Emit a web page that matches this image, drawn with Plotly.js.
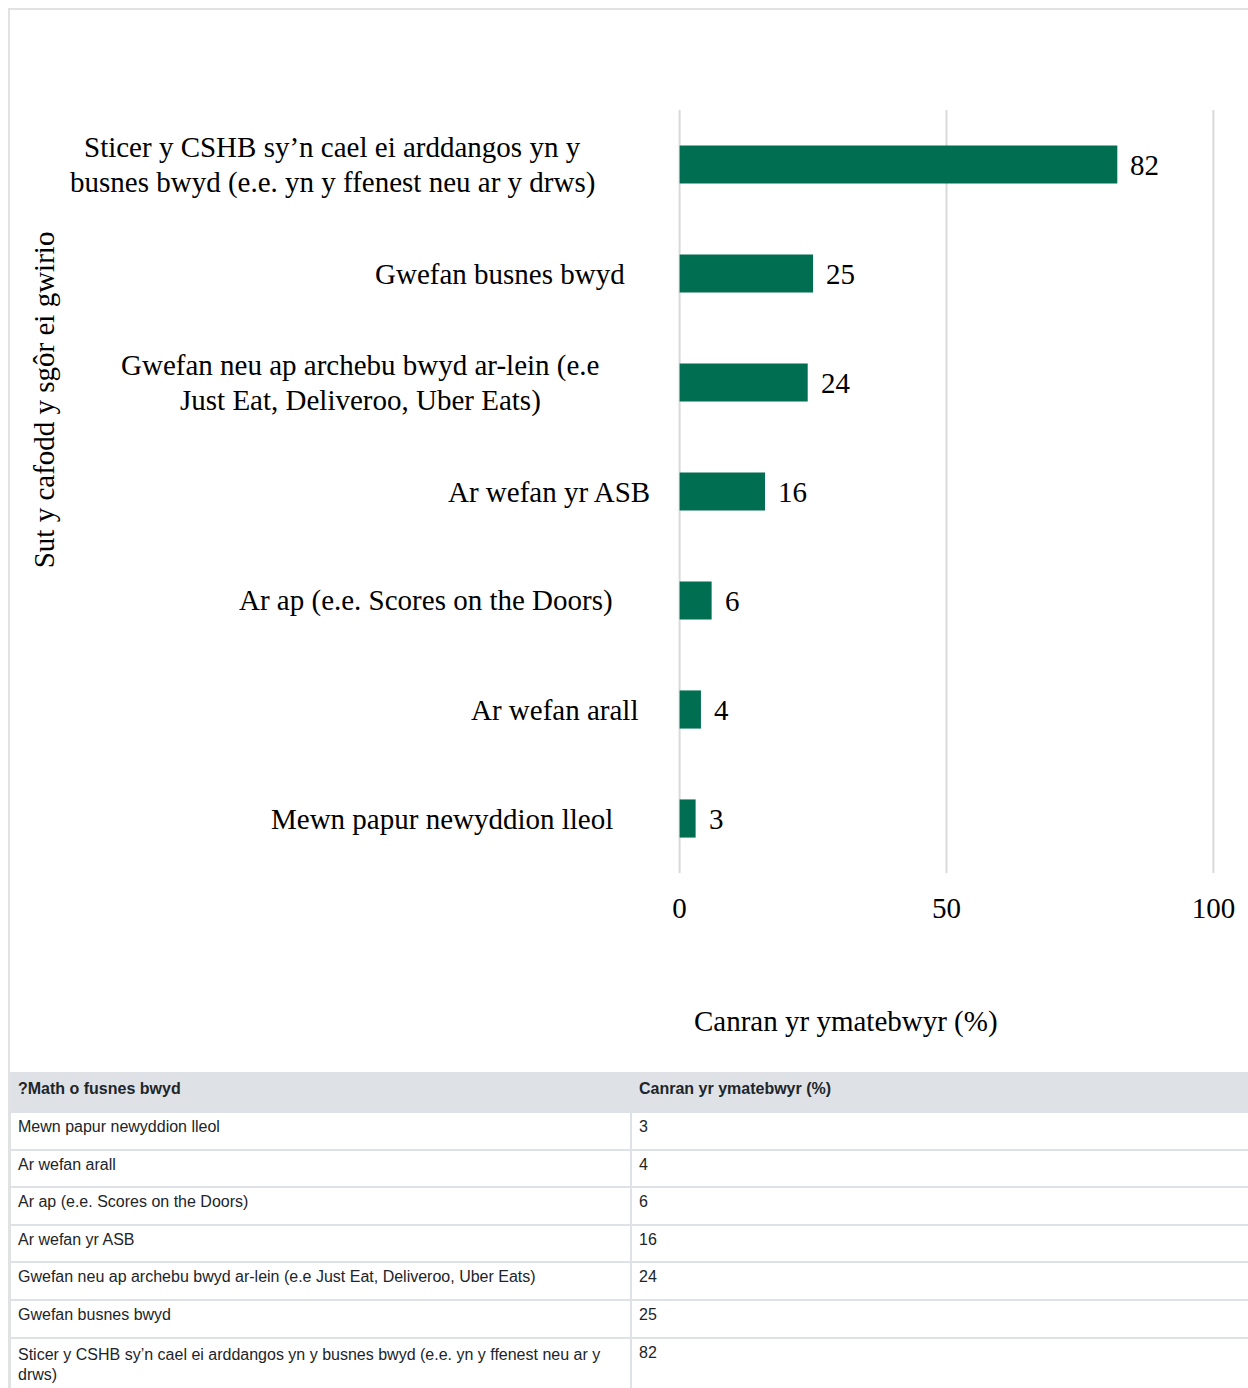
<!DOCTYPE html>
<html>
<head>
<meta charset="utf-8">
<script src="https://cdn.plot.ly/plotly-3.0.1.min.js"></script>
<style>
  html, body { margin: 0; padding: 0; background: #ffffff; overflow: hidden; }
  #frame { position: absolute; left: 8px; top: 8px; width: 1300px; height: 1420px;
           border-left: 2px solid #e2e2e2; border-top: 2px solid #e2e2e2; }
  #chart { position: absolute; left: 0; top: 0; width: 1240px; height: 1062px; }
  #table { position: absolute; left: 0; top: 1062px; width: 1250px; height: 340px; }
</style>
</head>
<body>
<div id="frame">
  <div id="chart"></div>
  <div id="table"></div>
</div>
<script>
// ---- data (bottom to top, as in the table) ----
const categories = [
  "Mewn papur newyddion lleol",
  "Ar wefan arall",
  "Ar ap (e.e. Scores on the Doors)",
  "Ar wefan yr ASB",
  "Gwefan neu ap archebu bwyd ar-lein (e.e Just Eat, Deliveroo, Uber Eats)",
  "Gwefan busnes bwyd",
  "Sticer y CSHB sy’n cael ei arddangos yn y busnes bwyd (e.e. yn y ffenest neu ar y drws)"
];
const chartLabels = [
  "Mewn papur newyddion lleol",
  "Ar wefan arall",
  "Ar ap (e.e. Scores on the Doors)",
  "Ar wefan yr ASB",
  "Gwefan neu ap archebu bwyd ar-lein (e.e<br>Just Eat, Deliveroo, Uber Eats)",
  "Gwefan busnes bwyd",
  "Sticer y CSHB sy’n cael ei arddangos yn y<br>busnes bwyd (e.e. yn y ffenest neu ar y drws)"
];
const tableLabels = [
  "Mewn papur newyddion lleol",
  "Ar wefan arall",
  "Ar ap (e.e. Scores on the Doors)",
  "Ar wefan yr ASB",
  "Gwefan neu ap archebu bwyd ar-lein (e.e Just Eat, Deliveroo, Uber Eats)",
  "Gwefan busnes bwyd",
  "Sticer y CSHB sy’n cael ei arddangos yn y busnes bwyd (e.e. yn y ffenest neu ar y<br>drws)"
];
const values = [3, 4, 6, 16, 24, 25, 82];
const xTicks = [0, 50, 100];
const yAxisTitle = "Sut y cafodd y sgôr ei gwirio";
const xAxisTitle = "Canran yr ymatebwyr (%)";
const tableHeader = ["?Math o fusnes bwyd", "Canran yr ymatebwyr (%)"];

// ---- style ----
const SERIF = '"Liberation Serif", "Times New Roman", Times, serif';
const SANS = '"Liberation Sans", Arial, Helvetica, sans-serif';
const GREEN = '#006f51';
const FS = 29;
const LINE_H = 35;
// horizontal centre of each category label, px offset from the plot's left edge
const labelShift = [-236, -124, -252, -129, -318, -178, -346];

const annotations = [];
categories.forEach((c, i) => {
  const lines = chartLabels[i].split('<br>');
  lines.forEach((ln, j) => {
    annotations.push({
      xref: 'paper', yref: 'y', x: 0, y: c, xanchor: 'center', yanchor: 'middle',
      xshift: labelShift[i], yshift: ((lines.length - 1) / 2 - j) * LINE_H,
      text: ln, showarrow: false, align: 'center',
      font: { family: SERIF, size: FS, color: '#000' }
    });
  });
  annotations.push({
    xref: 'x', yref: 'y', x: values[i], y: c, xanchor: 'left', yanchor: 'middle',
    xshift: 11, text: String(values[i]), showarrow: false,
    font: { family: SERIF, size: FS, color: '#000' }
  });
});
annotations.push({
  xref: 'paper', yref: 'paper', x: -1.18, y: 0.62, xanchor: 'center', yanchor: 'middle',
  textangle: -90, text: yAxisTitle, showarrow: false,
  font: { family: SERIF, size: FS, color: '#000' }
});
annotations.push({
  xref: 'paper', yref: 'paper', x: 0.3137, y: -0.195, xanchor: 'center', yanchor: 'middle',
  text: xAxisTitle, showarrow: false,
  font: { family: SERIF, size: FS, color: '#000' }
});

// vertical gridlines at every tick (including the range ends)
const gridShapes = xTicks.map(v => ({
  type: 'line', xref: 'x', yref: 'paper', x0: v, x1: v, y0: 0, y1: 1,
  layer: 'below', line: { color: '#d9d9d9', width: 2 }
}));

Plotly.newPlot('chart', [{
  type: 'bar', orientation: 'h', x: values, y: categories,
  marker: { color: GREEN }, width: 0.35, hoverinfo: 'x+y'
}], {
  width: 1240, height: 1062,
  margin: { l: 668, r: 35, t: 100, b: 199 },
  paper_bgcolor: '#fff', plot_bgcolor: '#fff',
  showlegend: false,
  font: { family: SERIF, size: FS, color: '#000' },
  xaxis: {
    range: [-0.3, 100.3], tickvals: xTicks, ticktext: xTicks.map(String),
    showgrid: false, zeroline: false,
    showline: false, ticks: '', ticklabelstandoff: 15,
    tickfont: { family: SERIF, size: FS, color: '#000' }
  },
  yaxis: {
    type: 'category', categoryorder: 'array', categoryarray: categories,
    range: [-0.5, categories.length - 0.5],
    showticklabels: false, showgrid: false, zeroline: false, showline: false, ticks: ''
  },
  shapes: gridShapes,
  annotations: annotations
}, { displayModeBar: false, staticPlot: true });

Plotly.newPlot('table', [{
  type: 'table',
  columnwidth: [621, 629],
  header: {
    values: tableHeader.map(h => '<b>' + h + '</b>'),
    align: 'left', height: 40,
    fill: { color: '#dee2e6' },
    line: { color: '#dee2e6', width: 2 },
    font: { family: SANS, size: 16, color: '#212529' }
  },
  cells: {
    values: [tableLabels, values.map(String)],
    align: 'left', height: 37.6,
    fill: { color: '#ffffff' },
    line: { color: '#dee2e6', width: 2 },
    font: { family: SANS, size: 16, color: '#212529' }
  }
}], {
  width: 1250, height: 340,
  margin: { l: 0, r: 0, t: 0, b: 0 },
  paper_bgcolor: 'rgba(0,0,0,0)'
}, { displayModeBar: false, staticPlot: true });
</script>
</body>
</html>
